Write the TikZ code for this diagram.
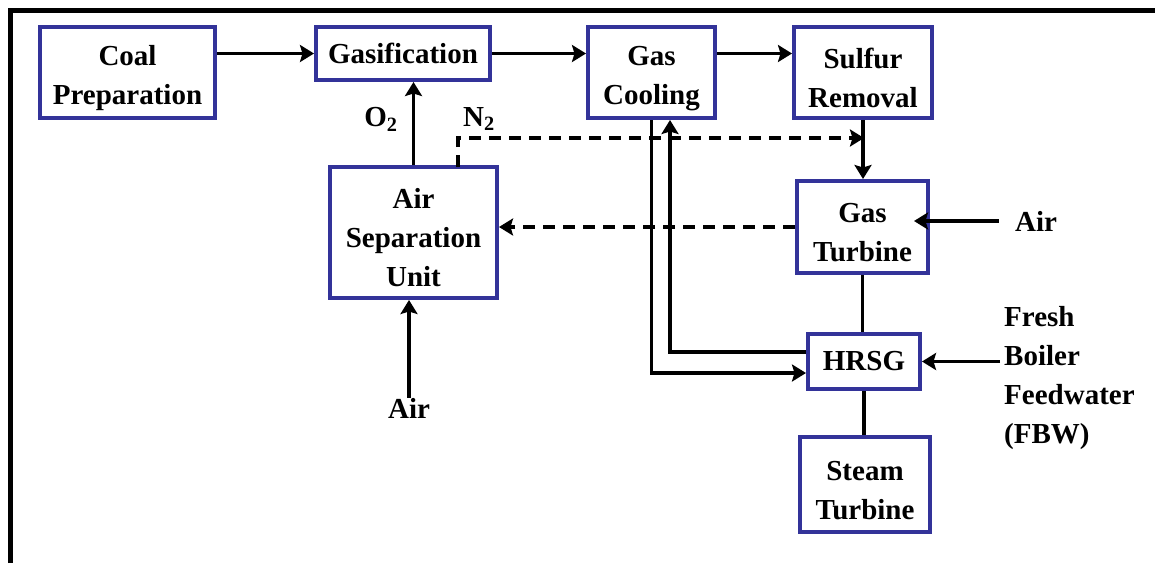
\documentclass[tikz,border=0pt]{standalone}
\usepackage{fontspec}
\setmainfont{Liberation Serif}
\usetikzlibrary{arrows.meta,calc}
\definecolor{boxblue}{HTML}{333399}
\newcommand{\tpad}{\rule{0pt}{31pt}}
\begin{document}
\begin{tikzpicture}[x=1pt,y=-1pt,
  every node/.style={font=\fontsize{29}{39}\selectfont\bfseries},
  blk/.style={draw=boxblue,line width=4pt,fill=white,align=center,inner sep=0pt},
  lab/.style={inner sep=0pt},
  tip/.style={-{Stealth[length=14pt,width=17pt,inset=2.5pt]}},
  arr/.style={line width=3.5pt,tip},
  ln/.style={line width=3.5pt},
  dsh/.style={line width=3.5pt,dash pattern=on 12pt off 8pt,tip}]
\useasboundingbox (0,0) rectangle (1155,563);
\fill[white] (0,0) rectangle (1155,563);
% frame
\draw[line width=5pt] (10,563) -- (10,10) -- (1155,10);
% blocks
\node[blk,minimum width=175pt,minimum height=91pt] (coal) at (127.5,72.5) {\tpad Coal\\Preparation};
\node[blk,minimum width=174pt,minimum height=53pt] (gas) at (403,53.5) {Gasification};
\node[blk,minimum width=127pt,minimum height=91pt] (cool) at (651.5,72.5) {\tpad Gas\\Cooling};
\node[blk,minimum width=138pt,minimum height=91pt] (sulf) at (863,72.5) {\tpad Sulfur\\Removal};
\node[blk,minimum width=167pt,minimum height=131pt] (asu) at (413.5,232.5) {\tpad Air\\Separation\\Unit};
\node[blk,minimum width=131pt,minimum height=92pt] (gt) at (862.5,227) {\tpad Gas\\Turbine};
\node[blk,minimum width=112pt,minimum height=55pt] (hrsg) at (864,361.5) {HRSG};
\node[blk,minimum width=130pt,minimum height=95pt] (st) at (865,484.5) {\tpad Steam\\Turbine};
% labels
\node[lab] (o2) at (381,119) {O\textsubscript{2}};
\node[lab] (n2) at (479,119) {N\textsubscript{2}};
\node[lab] (airR) at (1036,221) {Air};
\node[lab] (airB) at (409,408) {Air};
\node[lab,align=left,anchor=north west] (fbw) at (1004,306) {Fresh\\Boiler\\Feedwater\\(FBW)};
\coordinate (n2s) at (458,167);
\coordinate (n2t) at (864,138);
% connectors
\draw[arr] (coal.east |- gas.west) -- (gas.west);
\draw[arr] (gas.east) -- (gas.east -| cool.west);
\draw[arr] (cool.east |- gas.east) -- (sulf.west |- gas.east);
\draw[arr] (asu.north) -- (asu.north |- gas.south);
\draw[dsh] (n2s) |- (n2t);
\draw[arr] (sulf.south) -- (sulf.south |- gt.north);
\draw[dsh] (gt.west) -- (gt.west -| asu.east);
\draw[arr] ([xshift=-16pt]airR.west) -- ([xshift=-16pt]airR.west -| gt.east);
\draw[ln] (gt.south) -- (gt.south |- hrsg.north);
\draw[ln] (hrsg.south) -- (hrsg.south |- st.north);
\draw[arr] ([yshift=9.5pt]hrsg.west) -| ([xshift=18.5pt]cool.south);
\draw[arr] (cool.south) |- ([yshift=-11.5pt]hrsg.west);
\draw[arr] (hrsg.east -| 1000,0) -- (hrsg.east);
\draw[arr] (airB.north) -- (airB.north |- asu.south);
\end{tikzpicture}
\end{document}
